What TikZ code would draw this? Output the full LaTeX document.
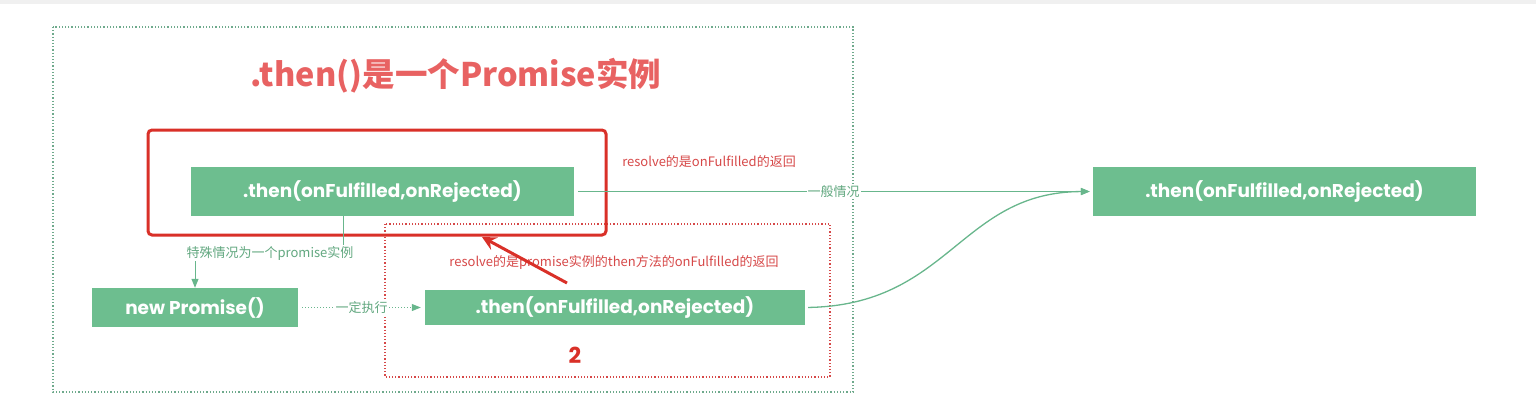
\documentclass[tikz,border=0pt]{standalone}
\usepackage{fontspec}
\usepackage{xcolor}
\usepackage{tikz}
\usetikzlibrary{arrows.meta}
\newfontfamily\cjk{Noto Sans CJK SC}
\newfontfamily\boxfont{Poppins}

\definecolor{boxgreen}{RGB}{109,190,143}
\definecolor{linegreen}{RGB}{104,182,140}
\definecolor{labelgreen}{RGB}{98,168,128}
\definecolor{framegreen}{RGB}{110,170,140}
\definecolor{titlered}{RGB}{232,98,98}
\definecolor{notered}{RGB}{214,72,72}
\definecolor{markred}{RGB}{217,48,40}

\tikzset{
  thenbox/.style={fill=boxgreen, text=white, inner sep=0pt,
    font=\boxfont\bfseries\fontsize{18.5}{22}\selectfont},
  note/.style={text=notered, inner sep=1pt, font=\cjk\fontsize{13}{15}\selectfont},
  edgelabel/.style={fill=white, text=labelgreen, inner sep=1pt, font=\cjk\fontsize{13}{15}\selectfont},
  flow/.style={draw=linegreen, line width=1.3pt, -{Triangle[length=9pt,width=7pt]}}
}

\begin{document}
\begin{tikzpicture}[x=1pt, y=-1pt]
\useasboundingbox (0,0) rectangle (1536,408);
\fill[black!6] (0,0) rectangle (1536,4);

% frames
\draw[framegreen, dotted, line width=1.2pt] (53,27) rectangle (853,392);
\draw[notered, dotted, line width=1.2pt] (385,224) rectangle (830,377);
\node[text=titlered, font=\cjk\bfseries\fontsize{32.5}{38}\selectfont] (title) at (456,76) {.then()是一个Promise实例};

% boxes
\node[thenbox, minimum width=383pt, minimum height=49pt] (thenA) at (382.5,191.5) {.then(onFulfilled,onRejected)};
\node[thenbox, minimum width=206pt, minimum height=39pt] (newP) at (195,307.5) {new Promise()};
\node[thenbox, minimum width=380pt, minimum height=35pt] (thenC) at (615,307.5) {.then(onFulfilled,onRejected)};
\node[thenbox, minimum width=383pt, minimum height=49pt] (thenD) at (1284.5,191.5) {.then(onFulfilled,onRejected)};

\draw[markred, line width=3pt, rounded corners=4pt] (148,130) rectangle (606,235);
\node[text=markred, font=\boxfont\bfseries\fontsize{22}{26}\selectfont] (two) at (575,355) {2};

% connectors
\coordinate (bend) at (343,253);
\draw[flow, line width=1pt] (bend |- thenA.south) -- (bend) -| (newP.north);
\node[edgelabel] (special) at (270,253) {特殊情况为一个promise实例};

\draw[flow, line width=1pt, dotted, shorten <=4pt, shorten >=4pt] (newP) -- (thenC)
  node[midway, edgelabel, solid] (always) {一定执行};

\draw[flow, shorten <=4pt, shorten >=3pt] (thenA) -- (thenD)
  node[pos=0.5, edgelabel] (usual) {一般情况};
\draw[flow, shorten <=3pt, shorten >=3pt] (thenC.east) .. controls (950,305) and (960,192) .. (thenD.west);

\node[note] (noteA) at (709,162) {resolve的是onFulfilled的返回};
\node[note] (noteC) at (614,262) {resolve的是promise实例的then方法的onFulfilled的返回};

\coordinate (tail) at (567,283);
\draw[markred, line width=3pt, -{Stealth[length=14pt,width=14pt,inset=5pt]}] (tail) -- (482,237);
\end{tikzpicture}
\end{document}
